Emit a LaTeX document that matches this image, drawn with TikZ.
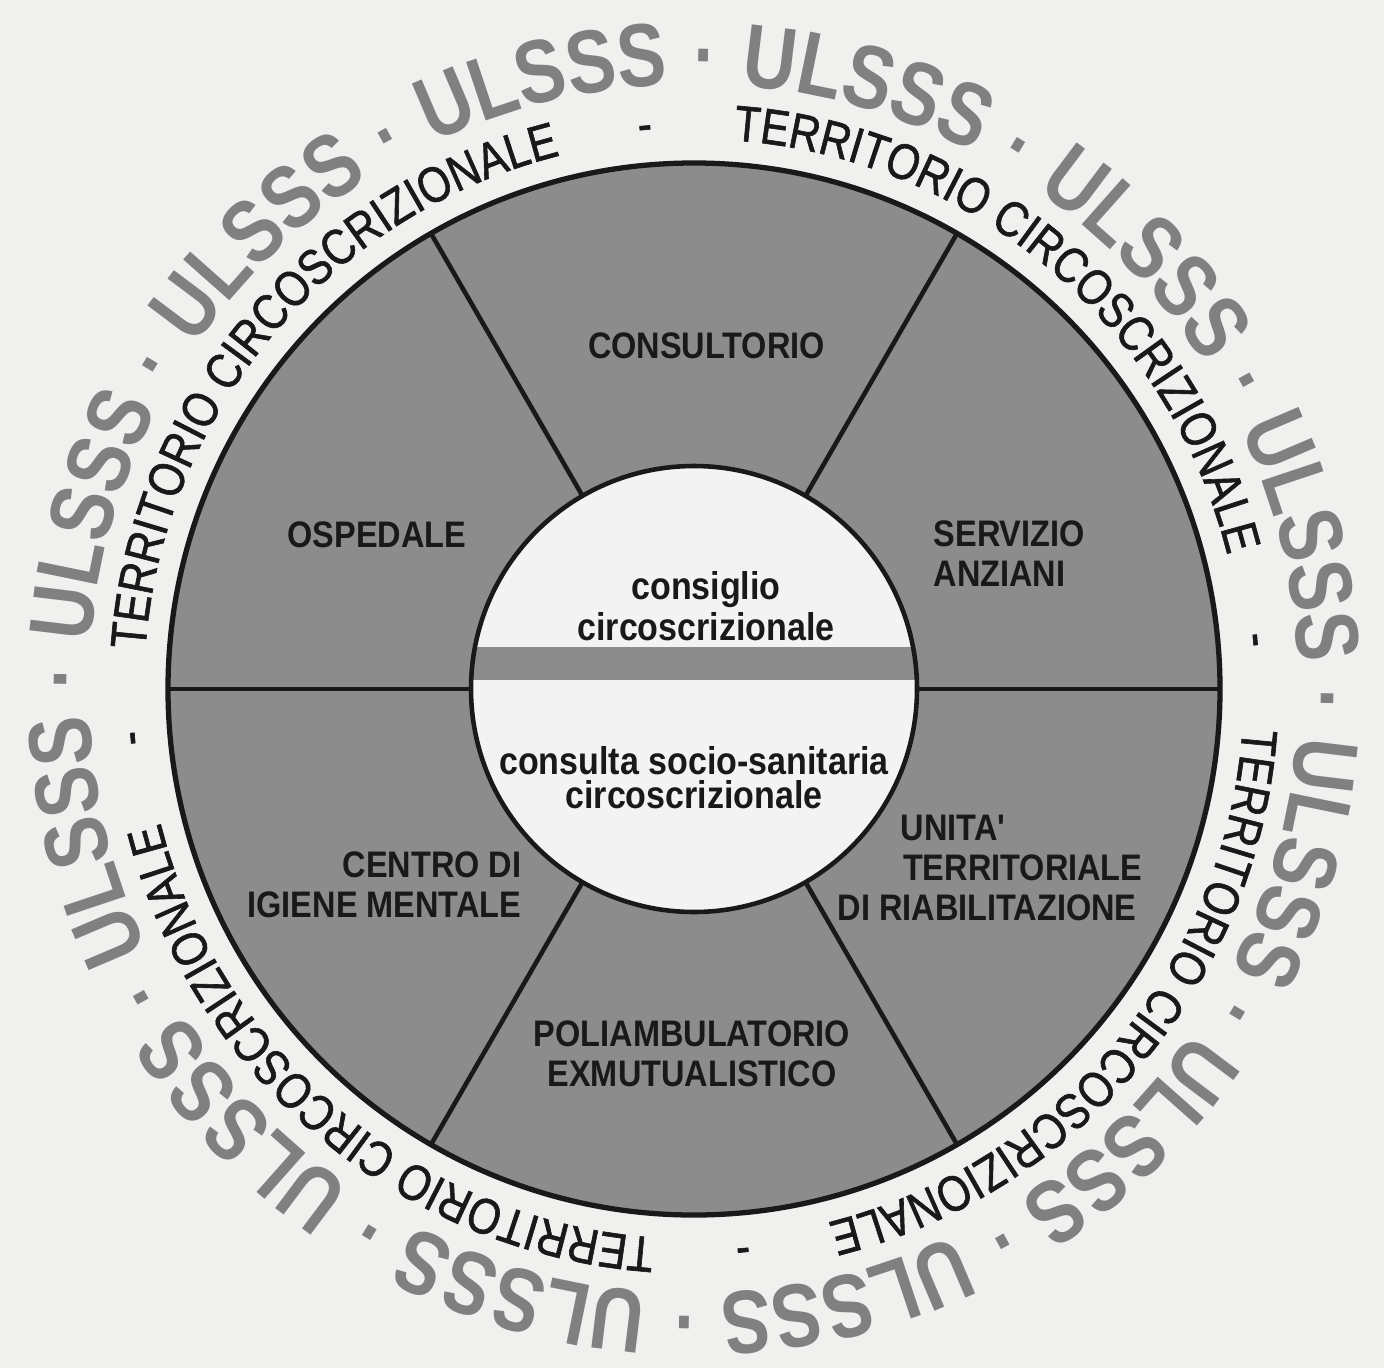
\documentclass[tikz,border=0pt]{standalone}
\usepackage{fontspec}
\setmainfont{Liberation Sans}
\newfontfamily\ringfont[FakeStretch=0.84, FakeBold=1.2]{Liberation Sans}
\newfontfamily\ulsfont[FakeStretch=0.82]{Liberation Sans Bold}
\newfontfamily\sectorfont[FakeStretch=0.88]{Liberation Sans}
\usepackage{xcolor}
\usetikzlibrary{decorations.text}

\definecolor{paper}{RGB}{240,240,238}
\definecolor{diskgray}{RGB}{140,140,140}
\definecolor{ulsgray}{RGB}{128,128,128}
\definecolor{innerwhite}{RGB}{243,243,243}
\definecolor{ink}{RGB}{25,25,25}

\begin{document}
\begin{tikzpicture}[
  every node/.style={inner sep=0pt, text=ink},
  sector/.style={font=\sectorfont\bfseries\fontsize{10.5}{11.3}\selectfont, align=center},
  centre/.style={font=\sectorfont\bfseries\fontsize{11}{11.7}\selectfont, align=center},
  divider/.style={draw=ink, line width=1.3pt},
  ulsdot/.style={font=\ulsfont\fontsize{24}{30}\selectfont, text=ulsgray, anchor=base},
  dashmark/.style={font=\ringfont\fontsize{14.3}{17}\selectfont, anchor=base}
]
\fill[paper] (-6.94,-6.79) rectangle (6.90,6.89);
\useasboundingbox (-6.94,-6.79) rectangle (6.90,6.89);

% disk and sectors
\fill[diskgray] (0,0) circle (5.26);
\foreach \ang in {0,60,...,300}
  \draw[divider] (\ang:2.2) -- (\ang:5.26);
\fill[innerwhite] (0,0) circle (2.23);
\begin{scope}
  \clip (0,0) circle (2.23);
  \fill[diskgray] (-2.3,0.09) rectangle (2.3,0.42);
\end{scope}
\draw[ink, line width=1.3pt] (0,0) circle (2.23);
\draw[ink, line width=1.5pt] (0,0) circle (5.26);

\node[sector] (consultorio) at (0.125,3.43) {CONSULTORIO};
\node[sector] (ospedale) at (-3.17,1.54) {OSPEDALE};
\node[sector, align=left, anchor=west] (anziani) at (2.39,1.355) {SERVIZIO\\ANZIANI};
\node[sector, align=left, anchor=west] (riabil) at (1.43,-1.79)
  {\hspace*{18pt}UNITA'\\\hspace*{18.6pt}TERRITORIALE\\DI RIABILITAZIONE};
\node[sector, align=right, anchor=east] (mentale) at (-1.72,-1.955) {CENTRO DI\\IGIENE MENTALE};
\node[sector] (poliamb) at (-0.02,-3.65) {POLIAMBULATORIO\\EXMUTUALISTICO};

\node[centre] (consiglio) at (0.12,0.825) {consiglio\\circoscrizionale};
\node[centre, font=\sectorfont\bfseries\fontsize{11}{9.5}\selectfont] (consulta) at (0,-0.885)
  {consulta socio-sanitaria\\circoscrizionale};

% outer ring
\foreach \ang [count=\i] in {74,44,...,-256} {
  \path[decorate, decoration={text along path, text align=center,
    text={|\ulsfont\fontsize{25.5}{30}\selectfont\color{ulsgray}|ULSSS}}]
    (\ang+15:6.05) arc[start angle=\ang+15, end angle=\ang-15, radius=6.05];
  \node[ulsdot, rotate=\ang-75] (dot\i) at (\ang+15:6.05) {·};
}

% inner ring
\foreach \ang [count=\i] in {140,50,-40,-130} {
  \path[decorate, decoration={text along path, text align=center,
    text={|\ringfont\fontsize{14.3}{17}\selectfont\color{ink}|TERRITORIO CIRCOSCRIZIONALE}}]
    (\ang+44:5.50) arc[start angle=\ang+44, end angle=\ang-44, radius=5.50];
  \node[dashmark, rotate=\ang-135] (dash\i) at (\ang-45:5.50) {-};
}
\end{tikzpicture}
\end{document}
